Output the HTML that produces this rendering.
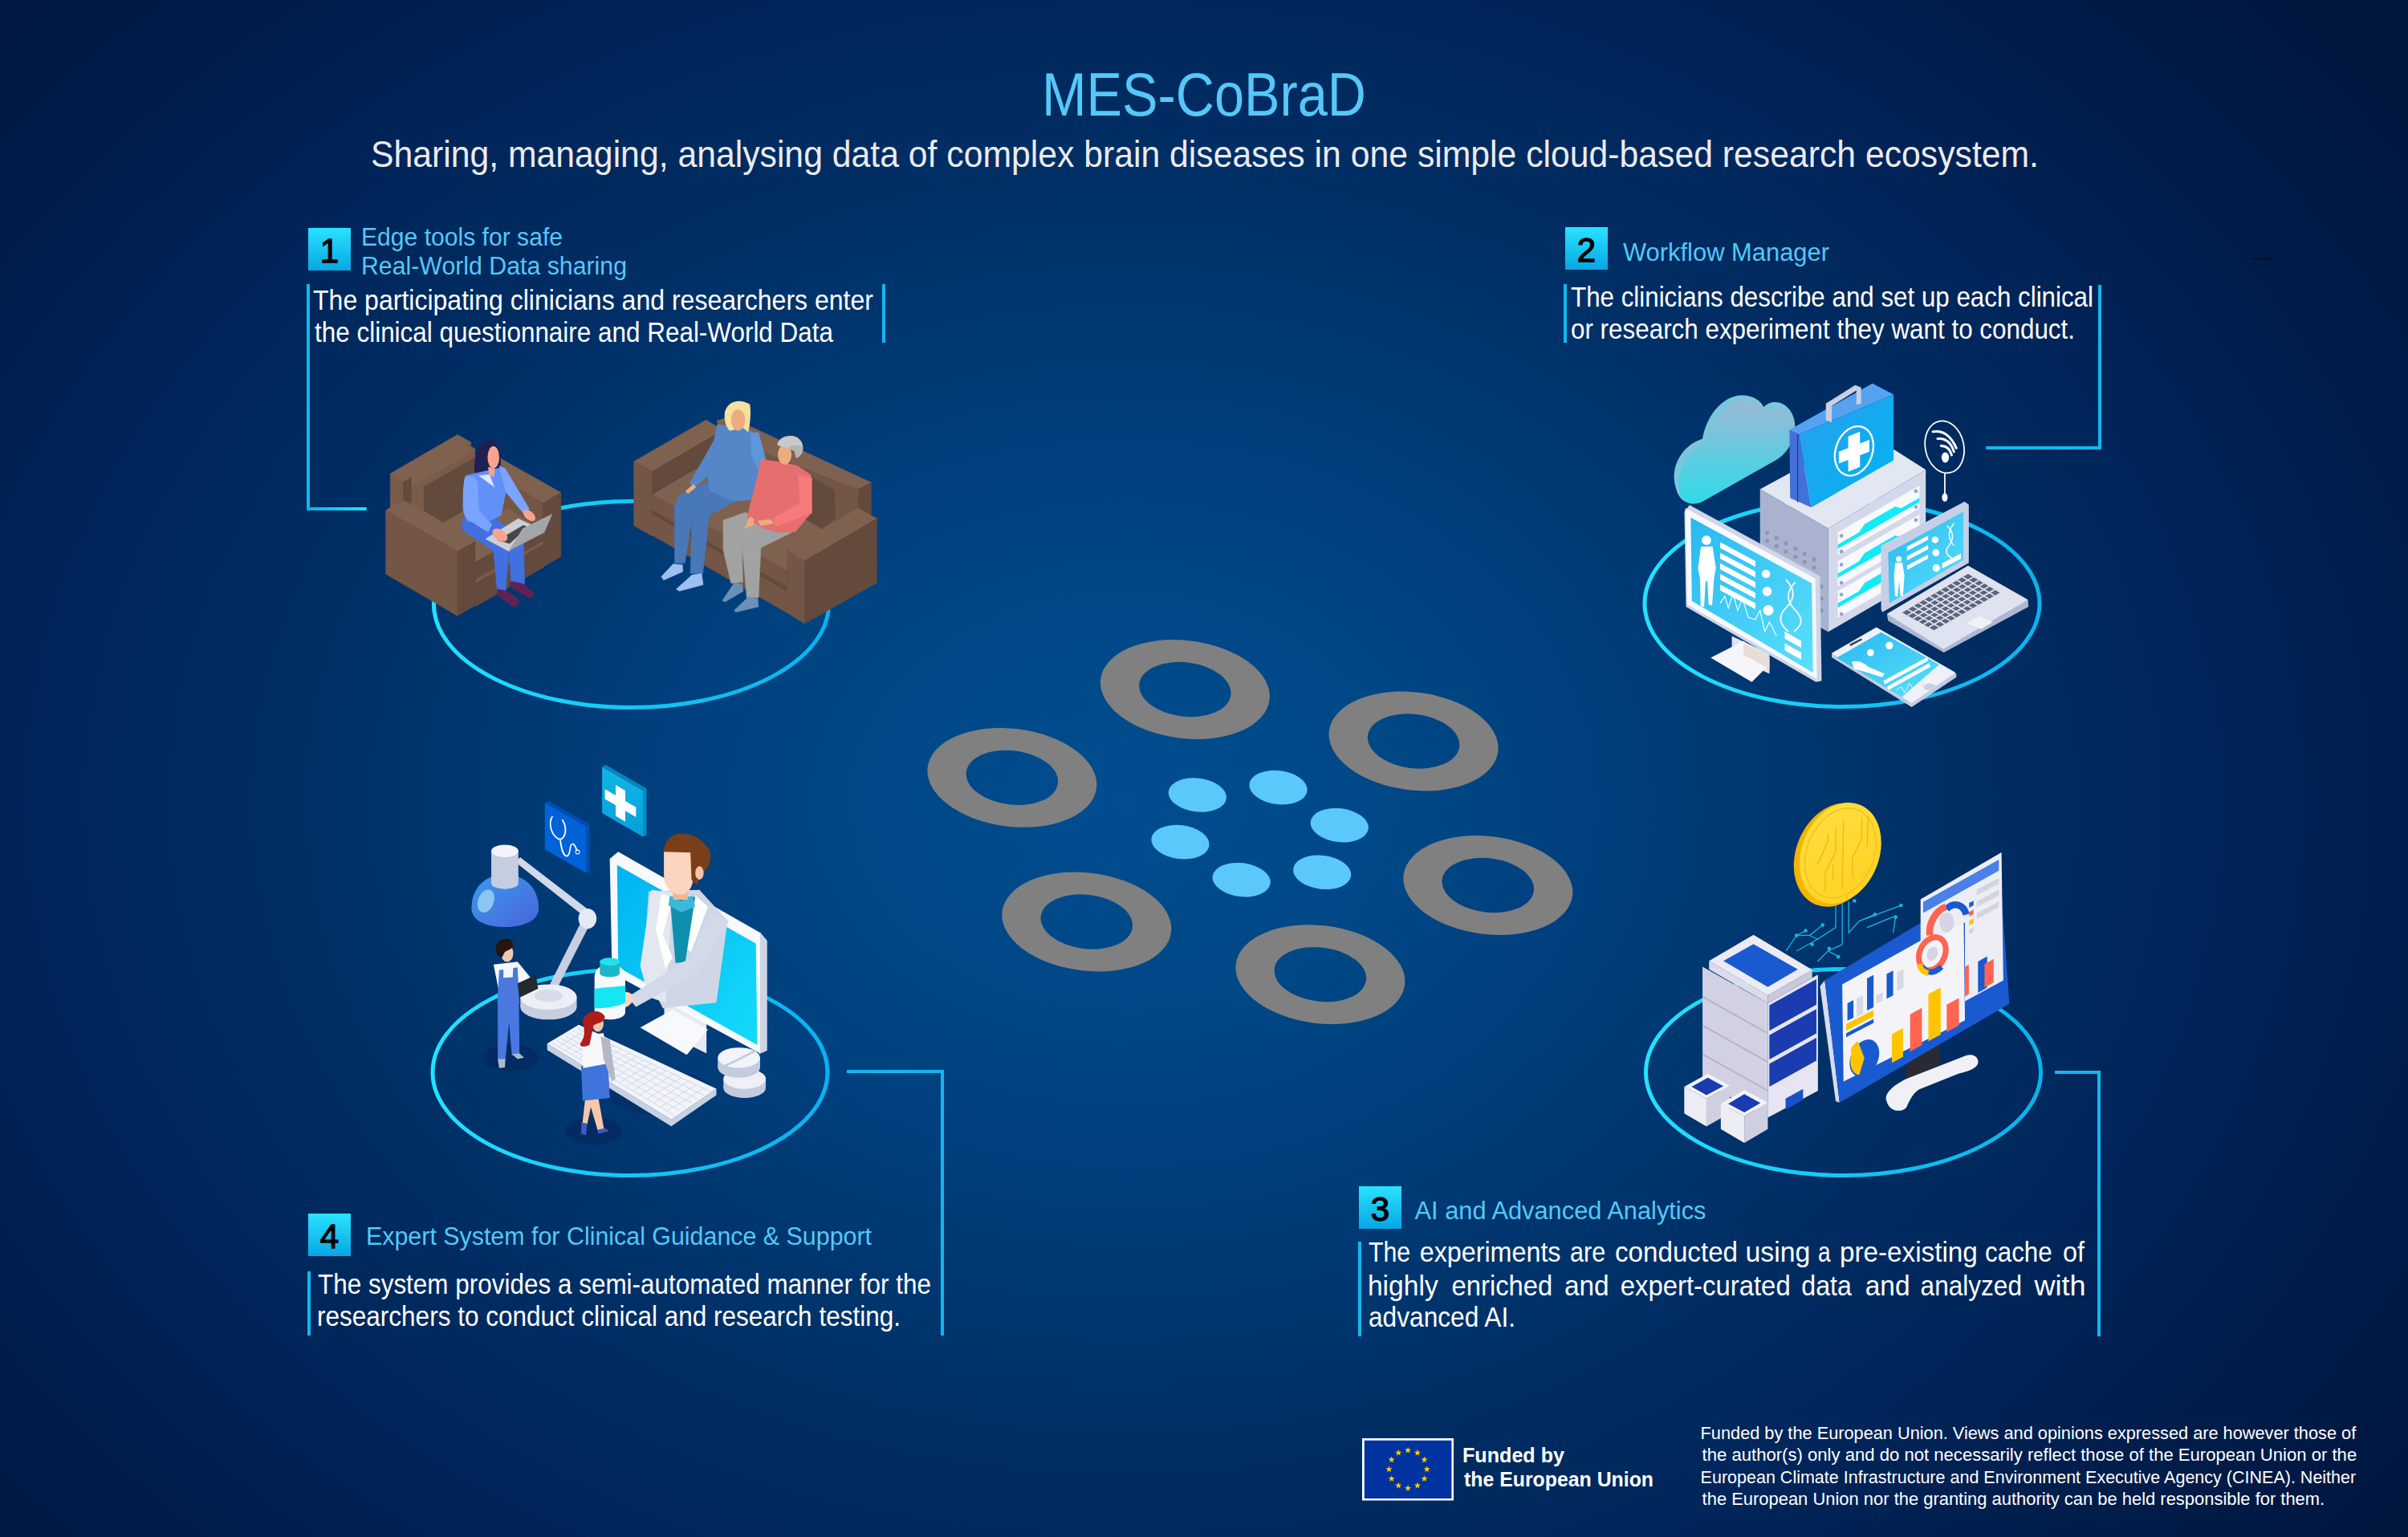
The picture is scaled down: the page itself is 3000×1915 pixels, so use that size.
<!DOCTYPE html>
<html><head><meta charset="utf-8"><title>MES-CoBraD</title>
<style>
html,body{margin:0;padding:0;width:3000px;height:1915px;overflow:hidden;}
body{background:radial-gradient(1963px 1510px at 1400px 1000px, #004d90 0%, #004785 17.9%, #003e7c 31.8%, #003b76 35.8%, #002c62 56.3%, #002a5e 61.6%, #00255a 69.2%, #001f4e 79.5%, #00163f 100%);font-family:"Liberation Sans",sans-serif;position:relative;}
svg{position:absolute;left:0;top:0;}
text{font-family:"Liberation Sans",sans-serif;}
</style></head><body>
<svg width="3000" height="1915" viewBox="0 0 3000 1915">
<defs>
<linearGradient id="boxg" x1="0" y1="0" x2="0" y2="1"><stop offset="0" stop-color="#2ae2ff"/><stop offset="1" stop-color="#08a6e4"/></linearGradient>
<linearGradient id="ellg" x1="0" y1="0" x2="1" y2="0"><stop offset="0" stop-color="#22e2ff"/><stop offset="0.5" stop-color="#14c6f4"/><stop offset="1" stop-color="#0ab2ee"/></linearGradient>
<linearGradient id="lineg" x1="0" y1="0" x2="1" y2="0"><stop offset="0" stop-color="#0bb0ea"/><stop offset="1" stop-color="#22e2ff"/></linearGradient>
</defs>

<ellipse cx="786.5" cy="753" rx="246" ry="128.5" fill="none" stroke="url(#ellg)" stroke-width="5"/>
<ellipse cx="2295" cy="752" rx="246" ry="128.5" fill="none" stroke="url(#ellg)" stroke-width="5"/>
<ellipse cx="785" cy="1336" rx="246" ry="128.5" fill="none" stroke="url(#ellg)" stroke-width="5"/>
<ellipse cx="2296.5" cy="1336" rx="246" ry="128.5" fill="none" stroke="url(#ellg)" stroke-width="5"/>
<rect x="382" y="354" width="4" height="282" fill="#10b8ee"/>
<rect x="382" y="632" width="74.6" height="4" fill="url(#lineg)"/>
<rect x="1099" y="354" width="4" height="73" fill="#10b8ee"/>
<rect x="1948" y="354" width="4" height="73" fill="#10b8ee"/>
<rect x="2614" y="355" width="4" height="205" fill="#10b8ee"/>
<rect x="2474.4" y="556" width="143.4" height="4" fill="#10b8ee"/>
<rect x="1055" y="1333" width="121" height="4" fill="#10b8ee"/>
<rect x="1172" y="1333" width="4" height="331" fill="#10b8ee"/>
<rect x="383" y="1584" width="4" height="80" fill="#10b8ee"/>
<rect x="2560" y="1334" width="57" height="4" fill="#10b8ee"/>
<rect x="2613" y="1334" width="4" height="331" fill="#10b8ee"/>
<rect x="1692" y="1547" width="4" height="118" fill="#10b8ee"/>
<rect x="384" y="284" width="53" height="53" fill="url(#boxg)"/>
<text x="410.5" y="327" text-anchor="middle" font-size="42" fill="#000" stroke="#000" stroke-width="1.3">1</text>
<rect x="1950" y="283" width="53" height="53" fill="url(#boxg)"/>
<text x="1976.5" y="326" text-anchor="middle" font-size="42" fill="#000" stroke="#000" stroke-width="1.3">2</text>
<rect x="384" y="1512" width="53" height="53" fill="url(#boxg)"/>
<text x="410.5" y="1555" text-anchor="middle" font-size="42" fill="#000" stroke="#000" stroke-width="1.3">4</text>
<rect x="1693" y="1478" width="53" height="53" fill="url(#boxg)"/>
<text x="1719.5" y="1521" text-anchor="middle" font-size="42" fill="#000" stroke="#000" stroke-width="1.3">3</text>
<path fill="#808080" fill-rule="evenodd" d="M1581.61,871.92 A106,61 7 1 1 1371.19,846.08 A106,61 7 1 1 1581.61,871.92 Z M1533.47,866.01 A57.5,33.5 7 1 1 1419.33,851.99 A57.5,33.5 7 1 1 1533.47,866.01 Z"/>
<path fill="#808080" fill-rule="evenodd" d="M1366.11,981.82 A106,61 7 1 1 1155.69,955.98 A106,61 7 1 1 1366.11,981.82 Z M1317.97,975.91 A57.5,33.5 7 1 1 1203.83,961.89 A57.5,33.5 7 1 1 1317.97,975.91 Z"/>
<path fill="#808080" fill-rule="evenodd" d="M1866.31,936.42 A106,61 7 1 1 1655.89,910.58 A106,61 7 1 1 1866.31,936.42 Z M1818.17,930.51 A57.5,33.5 7 1 1 1704.03,916.49 A57.5,33.5 7 1 1 1818.17,930.51 Z"/>
<path fill="#808080" fill-rule="evenodd" d="M1459.01,1161.42 A106,61 7 1 1 1248.59,1135.58 A106,61 7 1 1 1459.01,1161.42 Z M1410.87,1155.51 A57.5,33.5 7 1 1 1296.73,1141.49 A57.5,33.5 7 1 1 1410.87,1155.51 Z"/>
<path fill="#808080" fill-rule="evenodd" d="M1959.01,1115.92 A106,61 7 1 1 1748.59,1090.08 A106,61 7 1 1 1959.01,1115.92 Z M1910.87,1110.01 A57.5,33.5 7 1 1 1796.73,1095.99 A57.5,33.5 7 1 1 1910.87,1110.01 Z"/>
<path fill="#808080" fill-rule="evenodd" d="M1750.11,1227.02 A106,61 7 1 1 1539.69,1201.18 A106,61 7 1 1 1750.11,1227.02 Z M1701.97,1221.11 A57.5,33.5 7 1 1 1587.83,1207.09 A57.5,33.5 7 1 1 1701.97,1221.11 Z"/>
<ellipse cx="1491.8" cy="990.5" rx="36.3" ry="21" transform="rotate(7 1491.8 990.5)" fill="#5bc8fa"/>
<ellipse cx="1592.6" cy="981.1" rx="36.3" ry="21" transform="rotate(7 1592.6 981.1)" fill="#5bc8fa"/>
<ellipse cx="1668.8" cy="1028.2" rx="36.3" ry="21" transform="rotate(7 1668.8 1028.2)" fill="#5bc8fa"/>
<ellipse cx="1470.5" cy="1049.1" rx="36.3" ry="21" transform="rotate(7 1470.5 1049.1)" fill="#5bc8fa"/>
<ellipse cx="1546.7" cy="1096.2" rx="36.3" ry="21" transform="rotate(7 1546.7 1096.2)" fill="#5bc8fa"/>
<ellipse cx="1647.2" cy="1086.8" rx="36.3" ry="21" transform="rotate(7 1647.2 1086.8)" fill="#5bc8fa"/>
<g id="ill1">
<!-- armchair + woman with laptop: zoom coords of region [470,530,710,780] scale 6.15 -->
<g transform="translate(470,530) scale(0.16260)">
  <!-- back block -->
  <polygon stroke="#7a5b4a" stroke-width="3" stroke-linejoin="round" fill="#7a5b4a" points="100,370 615,72 718,130 718,160 750,180 750,720 100,720"/>
  <polygon stroke="#7f6150" stroke-width="3" stroke-linejoin="round" fill="#7f6150" points="100,370 615,72 718,130 680,150 750,190 260,470 200,430"/>
  <polygon stroke="#634a3c" stroke-width="3" stroke-linejoin="round" fill="#634a3c" points="200,430 260,398 260,600 200,575"/>
  <polygon stroke="#624a3c" stroke-width="3" stroke-linejoin="round" fill="#624a3c" points="360,470 750,245 750,630 505,745 360,660"/>
  <!-- right armrest -->
  <polygon stroke="#7f6150" stroke-width="3" stroke-linejoin="round" fill="#7f6150" points="940,250 1408,515 1270,595 800,330"/>
  <polygon stroke="#735646" stroke-width="3" stroke-linejoin="round" fill="#735646" points="940,400 1270,595 1270,1095 940,900"/>
  <polygon stroke="#634a3c" stroke-width="3" stroke-linejoin="round" fill="#634a3c" points="1270,595 1408,515 1408,1005 1270,1085"/>
  <!-- seat -->
  <polygon stroke="#7f6150" stroke-width="3" stroke-linejoin="round" fill="#7f6150" points="620,720 1000,640 1270,800 750,1050 620,970"/>
  <polygon stroke="#634a3c" stroke-width="3" stroke-linejoin="round" fill="#634a3c" points="750,1050 1270,750 1270,1090 750,1390"/>
  <polygon stroke="#7a5b4a" stroke-width="3" stroke-linejoin="round" fill="#7a5b4a" points="755,1180 1270,890 1270,910 755,1205"/>
  <!-- left armrest -->
  <polygon stroke="#7f6150" stroke-width="3" stroke-linejoin="round" fill="#7f6150" points="65,650 200,575 360,660 505,745 660,660 750,700 750,890 615,965"/>
  <polygon stroke="#735646" stroke-width="3" stroke-linejoin="round" fill="#735646" points="65,650 615,965 615,1460 65,1140"/>
  <polygon stroke="#634a3c" stroke-width="3" stroke-linejoin="round" fill="#634a3c" points="615,965 750,890 750,1380 615,1460"/>
  <!-- woman -->
  <path fill="#1f1f52" d="M745,350 C740,260 760,160 840,112 C900,100 940,150 945,230 C945,300 950,340 955,360 C920,360 890,345 870,330 L860,400 C820,410 780,390 745,350 Z"/>
  <polygon stroke="#4270e0" stroke-width="3" stroke-linejoin="round" fill="#4270e0" points="650,720 880,690 1120,880 1130,1215 1025,1215 1010,960 985,1270 920,1280 890,960 650,800"/>
  <path fill="#6190f8" d="M675,385 L780,360 L960,320 L985,520 L950,690 L870,730 L700,740 C660,700 650,640 655,600 Z"/>
  <polygon stroke="#dfe8ff" stroke-width="3" stroke-linejoin="round" fill="#dfe8ff" points="780,385 860,378 895,470 840,430"/>
  <path fill="#7aa4ff" d="M670,400 C720,370 770,400 770,460 L780,650 L880,760 L850,820 L690,720 C650,660 650,500 670,400 Z"/>
  <polygon stroke="#7aa4ff" stroke-width="3" stroke-linejoin="round" fill="#7aa4ff" points="935,310 980,330 1165,640 1125,680 985,510"/>
  <ellipse fill="#f9a38e" cx="890" cy="245" rx="45" ry="85"/>
  <polygon stroke="#f9a38e" stroke-width="3" stroke-linejoin="round" fill="#f9a38e" points="850,320 900,330 895,390 860,385"/>
  <polygon stroke="#5e2354" stroke-width="3" stroke-linejoin="round" fill="#5e2354" points="920,1255 1000,1270 1095,1345 1060,1390 1030,1385 920,1300"/>
  <polygon stroke="#5e2354" stroke-width="3" stroke-linejoin="round" fill="#5e2354" points="1020,1195 1110,1210 1205,1285 1185,1320 1160,1320 1020,1240"/>
  <!-- laptop -->
  <polygon stroke="#cfcfd3" stroke-width="3" stroke-linejoin="round" fill="#cfcfd3" points="830,870 1080,715 1175,760 1010,965"/>
  <polygon stroke="#45454f" stroke-width="3" stroke-linejoin="round" fill="#45454f" points="925,880 1120,765 1150,780 1015,905"/>
  <polygon stroke="#a4a5a9" stroke-width="3" stroke-linejoin="round" fill="#a4a5a9" points="1010,960 1115,790 1340,680 1280,820"/>
  <ellipse fill="#f9a38e" cx="940" cy="840" rx="65" ry="40" transform="rotate(35 940 840)"/>
  <ellipse fill="#f9a38e" cx="1165" cy="690" rx="55" ry="32" transform="rotate(40 1165 690)"/>
</g>
<!-- sofa with couple: zoom coords of region [780,490,1100,790] scale 5.122 -->
<g transform="translate(780,490) scale(0.19524)">
  <polygon stroke="#7f6150" stroke-width="3" stroke-linejoin="round" fill="#7f6150" points="580,175 660,150 1565,570 1480,615 600,270"/>
  <polygon stroke="#735646" stroke-width="3" stroke-linejoin="round" fill="#735646" points="600,270 1480,615 1480,900 1250,870 600,520"/>
  <polygon stroke="#634a3c" stroke-width="3" stroke-linejoin="round" fill="#634a3c" points="1480,615 1565,570 1565,770 1480,820"/>
  <polygon stroke="#735646" stroke-width="3" stroke-linejoin="round" fill="#735646" points="1420,580 1480,615 1480,760 1420,765"/>
  <polygon stroke="#7f6150" stroke-width="3" stroke-linejoin="round" fill="#7f6150" points="50,435 510,170 620,235 165,500"/>
  <polygon stroke="#634a3c" stroke-width="3" stroke-linejoin="round" fill="#634a3c" points="165,500 620,235 620,380 165,640"/>
  <polygon stroke="#735646" stroke-width="3" stroke-linejoin="round" fill="#735646" points="50,435 165,500 165,910 50,845"/>
  <polygon stroke="#7f6150" stroke-width="3" stroke-linejoin="round" fill="#7f6150" points="165,645 590,400 1000,640 1250,865 1480,735 1600,800 1140,1070 1025,1135"/>
  <polygon stroke="#624a3c" stroke-width="3" stroke-linejoin="round" fill="#624a3c" points="1000,430 1330,620 1335,800 1250,865 1000,720"/>
  <polygon stroke="#735646" stroke-width="3" stroke-linejoin="round" fill="#735646" points="165,645 1025,1135 1025,1400 165,905"/>
  <polygon stroke="#634a3c" stroke-width="3" stroke-linejoin="round" fill="#634a3c" points="165,745 1025,1235 1025,1262 165,770"/>
  <polygon stroke="#7f6150" stroke-width="3" stroke-linejoin="round" fill="#7f6150" points="1030,1000 1480,735 1600,800 1140,1070"/>
  <polygon stroke="#735646" stroke-width="3" stroke-linejoin="round" fill="#735646" points="1030,1000 1140,1070 1140,1470 1025,1400"/>
  <polygon stroke="#634a3c" stroke-width="3" stroke-linejoin="round" fill="#634a3c" points="1140,1070 1600,800 1600,1210 1140,1470"/>
  <!-- blonde woman -->
  <polygon stroke="#4878b8" stroke-width="3" stroke-linejoin="round" fill="#4878b8" points="340,650 530,560 770,650 530,780 490,1150 410,1150 420,800 375,1085 310,1085 310,720"/>
  <path fill="#5586c8" d="M580,200 L760,215 L830,260 L890,470 L800,680 L680,690 L530,620 L520,530 L440,600 L405,575 L560,300 Z"/>
  <polygon stroke="#5e96dc" stroke-width="3" stroke-linejoin="round" fill="#5e96dc" points="795,255 845,250 895,440 865,520 800,400"/>
  <path fill="#f5e09e" d="M630,120 C650,50 720,30 790,70 C800,130 790,200 780,248 L740,215 L700,230 L660,240 C630,200 625,160 630,120 Z"/>
  <ellipse fill="#ebac7e" cx="715" cy="170" rx="45" ry="68"/>
  <polygon stroke="#9ec0f0" stroke-width="3" stroke-linejoin="round" fill="#9ec0f0" points="225,1170 300,1090 360,1095 362,1138 240,1192"/>
  <polygon stroke="#9ec0f0" stroke-width="3" stroke-linejoin="round" fill="#9ec0f0" points="320,1250 420,1160 482,1150 492,1222 340,1262"/>
  <polygon stroke="#ebac7e" stroke-width="3" stroke-linejoin="round" fill="#ebac7e" points="380,625 430,580 445,600 395,640"/>
  <!-- old man -->
  <polygon stroke="#a2a2a2" stroke-width="3" stroke-linejoin="round" fill="#a2a2a2" points="620,810 760,760 1000,870 1055,890 860,985 845,1305 770,1305 740,965 745,1205 670,1212 620,1000"/>
  <path fill="#e56f6f" d="M860,420 L1000,440 L1090,460 L1180,520 L1185,760 L1080,885 L975,890 L870,860 L770,795 L830,560 Z"/>
  <polygon stroke="#f77a7a" stroke-width="3" stroke-linejoin="round" fill="#f77a7a" points="1100,520 1185,540 1185,765 955,850 940,800 1110,700"/>
  <ellipse fill="#ebac7e" cx="1012" cy="392" rx="44" ry="64"/>
  <path fill="#c9c9c9" d="M965,330 C970,290 1010,268 1060,272 C1110,278 1135,320 1128,365 C1120,395 1100,410 1085,412 L1075,370 C1060,355 1040,350 1020,345 C1000,340 980,338 965,330 Z"/>
  <path fill="#b4b4b4" d="M1030,348 C1060,330 1100,325 1128,340 C1130,380 1110,405 1085,412 L1075,370 Z"/>
  <polygon stroke="#ebac7e" stroke-width="3" stroke-linejoin="round" fill="#ebac7e" points="755,860 790,790 815,800 810,845"/>
  <polygon stroke="#ebac7e" stroke-width="3" stroke-linejoin="round" fill="#ebac7e" points="840,815 920,805 940,830 860,845"/>
  <polygon stroke="#6a90b8" stroke-width="3" stroke-linejoin="round" fill="#6a90b8" points="615,1322 690,1210 740,1218 748,1262 630,1332"/>
  <polygon stroke="#6a90b8" stroke-width="3" stroke-linejoin="round" fill="#6a90b8" points="690,1385 780,1300 840,1310 845,1362 700,1397"/>
</g>
</g>

<g id="ill2" transform="translate(2020,450) scale(0.29283)">
  <defs>
    <linearGradient id="cloudg" x1="0" y1="0" x2="0" y2="1"><stop offset="0" stop-color="#9ab9d6"/><stop offset="1" stop-color="#2fdbe8"/></linearGradient>
    <linearGradient id="scrg" x1="0" y1="0" x2="1" y2="1"><stop offset="0" stop-color="#2ab8f0"/><stop offset="1" stop-color="#5ae0fc"/></linearGradient>
    <linearGradient id="kitg" x1="0" y1="0" x2="1" y2="1"><stop offset="0" stop-color="#2a9ff0"/><stop offset="1" stop-color="#00b4f0"/></linearGradient>
  </defs>
  <!-- cloud -->
  <path fill="#7cc6dc" d="M232,540 C205,460 250,360 345,330 C365,215 445,140 520,145 C565,148 595,170 605,195 C650,150 728,180 738,265 C742,330 700,390 650,420 L330,595 C285,615 245,595 232,540 Z"/>
  <path fill="url(#cloudg)" d="M250,560 C225,480 270,380 360,350 C380,240 460,165 535,170 C580,173 605,195 615,218 C660,180 728,205 738,275 C740,340 700,400 650,425 L345,598 C300,618 262,605 250,560 Z"/>
  <!-- server tower -->
  <polygon fill="#e3e7f1" points="590,545 1040,300 1295,462 880,712"/>
  <polygon fill="#a9b3cf" points="590,545 880,712 880,1152 590,990"/>
  <polygon fill="#d3d9ea" points="880,712 1295,462 1295,910 880,1152"/>
  <polygon fill="#d3d9ea" points="905,735 1280,520 1280,900 905,1115"/>
  <polygon fill="#f7f9fd" points="921,728 1268,529 1268,626 921,825"/>
  <polygon fill="#14eaf6" points="921,780 1010,729 1035,693 1165,618 1190,626 1268,581 1268,599 1190,644 1165,658 1035,733 1010,747 921,798"/>
  <circle cx="936" cy="743" r="8" fill="#9aa4c0"/>
  <circle cx="936" cy="810" r="8" fill="#9aa4c0"/>
  <circle cx="1253" cy="553" r="8" fill="#9aa4c0"/>
  <circle cx="1253" cy="620" r="8" fill="#9aa4c0"/>
  <polygon fill="#f7f9fd" points="921,851 1268,652 1268,759 921,958"/>
  <polygon fill="#14eaf6" points="921,903 1010,852 1035,816 1165,741 1190,749 1268,704 1268,722 1190,767 1165,781 1035,856 1010,870 921,921"/>
  <circle cx="936" cy="866" r="8" fill="#9aa4c0"/>
  <circle cx="936" cy="943" r="8" fill="#9aa4c0"/>
  <circle cx="1253" cy="676" r="8" fill="#9aa4c0"/>
  <circle cx="1253" cy="753" r="8" fill="#9aa4c0"/>
  <polygon fill="#f7f9fd" points="921,978 1268,779 1268,892 921,1091"/>
  <polygon fill="#14eaf6" points="921,1030 1010,979 1035,943 1165,868 1190,876 1268,831 1268,849 1190,894 1165,908 1035,983 1010,997 921,1048"/>
  <circle cx="936" cy="993" r="8" fill="#9aa4c0"/>
  <circle cx="936" cy="1076" r="8" fill="#9aa4c0"/>
  <circle cx="1253" cy="803" r="8" fill="#9aa4c0"/>
  <circle cx="1253" cy="886" r="8" fill="#9aa4c0"/>
  <g fill="#8d97b3">
    <circle cx="620" cy="730" r="9"/><circle cx="660" cy="752" r="9"/><circle cx="700" cy="775" r="9"/><circle cx="740" cy="798" r="9"/><circle cx="780" cy="820" r="9"/><circle cx="820" cy="843" r="9"/>
    <circle cx="620" cy="765" r="9"/><circle cx="660" cy="787" r="9"/><circle cx="700" cy="810" r="9"/><circle cx="740" cy="833" r="9"/><circle cx="780" cy="855" r="9"/><circle cx="820" cy="878" r="9"/>
    <circle cx="850" cy="960" r="9"/><circle cx="850" cy="1010" r="9"/><circle cx="850" cy="1060" r="9"/>
  </g>
  <!-- medical kit -->
  <polygon fill="#56a2f0" points="715,292 1068,95 1158,142 755,312"/>
  <polygon fill="#4470da" points="715,292 755,312 808,622 718,582"/>
  <polygon fill="url(#kitg)" points="755,312 1158,142 1158,422 808,622"/>
  <line x1="750" y1="312" x2="750" y2="600" stroke="#1f3a80" stroke-width="4"/>
  <polygon fill="#c9cfe2" points="870,180 995,102 1020,112 1020,180 1000,185 1000,125 895,190 895,260 870,250"/>
  <ellipse cx="990" cy="382" rx="78" ry="108" transform="rotate(20 990 382)" fill="none" stroke="#ffffff" stroke-width="8"/>
  <polygon fill="#ffffff" points="965,320 1015,300 1015,350 1055,335 1055,385 1015,400 1015,450 965,470 965,420 925,435 925,385 965,370"/>
  <!-- wifi sign -->
  <ellipse cx="1375" cy="365" rx="82" ry="112" transform="rotate(-12 1375 365)" fill="none" stroke="#ffffff" stroke-width="6"/>
  <path d="M1325,300 Q1390,290 1425,370 M1345,330 Q1395,325 1415,385 M1360,360 Q1395,360 1405,400" fill="none" stroke="#ffffff" stroke-width="10" stroke-linecap="round"/>
  <ellipse cx="1378" cy="410" rx="16" ry="22" fill="#ffffff"/>
  <line x1="1376" y1="478" x2="1376" y2="575" stroke="#ffffff" stroke-width="6"/>
  <ellipse cx="1376" cy="580" rx="12" ry="18" fill="#ffffff"/>
  <!-- monitor -->
  <polygon fill="#dfe4f0" points="470,1170 630,1245 630,1330 470,1255"/>
  <polygon fill="#f4f6fb" points="380,1262 520,1190 630,1290 555,1365"/>
  <polygon fill="#e8ddd6" points="520,1200 630,1262 630,1310 520,1250"/>
  <polygon fill="#cfd6e8" points="268,640 290,612 845,915 852,1360 828,1365 275,1045"/>
  <polygon fill="#f7f9fd" points="272,625 825,925 832,1352 280,1035"/>
  <polygon fill="url(#scrg)" points="295,665 810,945 815,1325 300,1020"/>
  <g fill="#ffffff">
    <circle cx="362" cy="762" r="20"/><path d="M338,790 L388,788 L402,880 L394,925 L386,1040 L371,1036 L366,935 L358,938 L352,1046 L337,1041 L335,928 L326,882 Z"/>
    <polygon points="420,770 570,850 570,875 420,795"/>
    <polygon points="420,815 570,895 570,920 420,840"/>
    <polygon points="420,860 570,940 570,965 420,885"/>
    <polygon points="420,905 570,985 570,1010 420,930"/>
    <polygon points="420,950 570,1030 570,1055 420,975"/>
    <circle cx="615" cy="905" r="18"/><circle cx="620" cy="980" r="20"/><circle cx="625" cy="1060" r="22"/>
    <polygon points="695,1150 765,1190 765,1220 695,1180"/>
    <polygon points="695,1200 765,1240 765,1270 695,1230"/>
  </g>
  <path d="M420,1030 L440,1000 L455,1050 L475,990 L495,1060 L515,1010 L540,1090 L570,1100 L590,1060 L610,1150 L630,1110 L660,1170" fill="none" stroke="#ffffff" stroke-width="4"/>
  <path d="M700,930 Q760,990 700,1050 Q650,1100 710,1150 M740,940 Q680,1000 740,1060 Q790,1110 735,1150" fill="none" stroke="#ffffff" stroke-width="6"/>
  <!-- laptop -->
  <polygon fill="#aeb7d2" points="1130,1078 1475,872 1730,1018 1732,1045 1372,1240 1135,1105"/>
  <polygon fill="#dfe3ef" points="1130,1075 1475,870 1730,1015 1370,1225"/>
  <polygon fill="#59657c" points="1195,1070 1475,905 1610,985 1330,1145"/>
  <g stroke="#dfe3ef" stroke-width="6"><line x1="1218" y1="1082" x2="1498" y2="918"/><line x1="1240" y1="1095" x2="1520" y2="932"/><line x1="1262" y1="1108" x2="1542" y2="945"/><line x1="1285" y1="1120" x2="1565" y2="958"/><line x1="1308" y1="1132" x2="1588" y2="972"/><line x1="1218" y1="1056" x2="1353" y2="1132"/><line x1="1242" y1="1042" x2="1377" y2="1118"/><line x1="1265" y1="1029" x2="1400" y2="1105"/><line x1="1288" y1="1015" x2="1423" y2="1092"/><line x1="1312" y1="1001" x2="1447" y2="1078"/><line x1="1335" y1="988" x2="1470" y2="1065"/><line x1="1358" y1="974" x2="1493" y2="1052"/><line x1="1382" y1="960" x2="1517" y2="1038"/><line x1="1405" y1="946" x2="1540" y2="1025"/><line x1="1428" y1="932" x2="1563" y2="1012"/><line x1="1452" y1="919" x2="1587" y2="998"/></g>
  <polygon fill="#f0f2f8" points="1470,1115 1520,1085 1580,1110 1530,1140"/>
  <polygon fill="#c7cfe6" points="1105,785 1460,598 1478,610 1478,858 1110,1068 1105,1055"/>
  <polygon fill="url(#scrg)" points="1135,815 1455,640 1455,845 1140,1030"/>
  <g fill="#ffffff">
    <circle cx="1180" cy="842" r="12"/><path d="M1165,858 L1195,856 L1204,912 L1198,1000 L1187,998 L1182,935 L1175,1002 L1164,1000 L1160,912 Z"/>
    <polygon points="1215,790 1305,742 1305,760 1215,808"/>
    <polygon points="1215,830 1305,782 1305,800 1215,848"/>
    <polygon points="1215,870 1305,822 1305,840 1215,888"/>
    <polygon points="1365,860 1445,818 1445,840 1365,882"/>
    <circle cx="1335" cy="760" r="14"/><circle cx="1338" cy="815" r="15"/><circle cx="1340" cy="880" r="16"/>
  </g>
  <path d="M1385,700 Q1430,740 1390,790 Q1370,820 1410,840 M1415,690 Q1375,740 1415,785" fill="none" stroke="#ffffff" stroke-width="5"/>
  <!-- phone -->
  <polygon fill="#c4cbe0" points="895,1245 1085,1135 1425,1330 1425,1345 1235,1472 895,1260"/>
  <polygon fill="#eef1f8" points="895,1242 1085,1132 1422,1325 1235,1455"/>
  <polygon fill="url(#scrg)" points="916,1262 1105,1153 1352,1291 1193,1429"/>
  <polygon fill="#ffffff" points="1115,1360 1300,1260 1305,1275 1120,1375"/>
  <polygon fill="#ffffff" points="1130,1385 1310,1285 1315,1300 1135,1400"/>
  <path d="M980,1280 C1000,1270 1030,1280 1050,1300 L1120,1330 L1110,1345 L1030,1320 L990,1310 Z" fill="#ffffff"/>
  <circle cx="1060" cy="1240" r="15" fill="#ffffff"/><circle cx="1140" cy="1210" r="16" fill="#ffffff"/>
  <polygon fill="#3a3f50" points="970,1205 1020,1180 1025,1186 975,1212"/>
  <ellipse cx="1310" cy="1385" rx="28" ry="14" fill="#c9d0e2"/>
  <path d="M1170,1400 L1190,1385 L1205,1410 L1225,1370 L1245,1400 L1260,1380 L1280,1395 L1320,1345 L1345,1340" fill="none" stroke="#ffffff" stroke-width="3"/>
</g>

<g id="ill3" transform="translate(2030,980) scale(0.32531)">
  <defs>
    <linearGradient id="coing" x1="0" y1="0" x2="1" y2="1"><stop offset="0" stop-color="#ffe040"/><stop offset="1" stop-color="#ffd020"/></linearGradient>
  </defs>
  <!-- circuit lines -->
  <g fill="none" stroke="#1cb4e0" stroke-width="4">
    <path d="M790,440 L790,540 L720,585 L690,570 L640,570 M720,585 L640,630 M690,570 L740,530"/>
    <path d="M815,440 L815,605 L760,630 L720,670 M760,630 L800,650"/>
    <path d="M840,440 L840,560 L880,515 L1040,455 M880,515 L940,490 M910,540 L1020,495 L1010,560"/>
    <path d="M600,630 L640,570 L670,555"/>
  </g>
  <g fill="#1cb4e0"><circle cx="640" cy="570" r="7"/><circle cx="675" cy="552" r="7"/><circle cx="740" cy="530" r="7"/><circle cx="700" cy="605" r="7"/><circle cx="765" cy="620" r="7"/><circle cx="800" cy="652" r="7"/><circle cx="862" cy="438" r="7"/><circle cx="940" cy="490" r="7"/><circle cx="1040" cy="455" r="7"/><circle cx="1020" cy="500" r="7"/></g>
  <!-- coin -->
  <ellipse cx="790" cy="262" rx="152" ry="205" transform="rotate(22 790 262)" fill="#f5b400"/>
  <ellipse cx="808" cy="255" rx="148" ry="200" transform="rotate(22 808 255)" fill="url(#coing)"/>
  <ellipse cx="808" cy="255" rx="128" ry="178" transform="rotate(22 808 255)" fill="none" stroke="#f2bc20" stroke-width="4"/>
  <g fill="none" stroke="#efb418" stroke-width="4">
    <path d="M750,400 L750,330 L790,250 L790,160 M815,390 L820,130 M855,350 L855,270 L890,200 L890,120 M910,230 L915,110 M720,300 L760,210 L760,180 M780,355 L780,300"/>
  </g>
  <!-- server stack -->
  <polygon fill="#d2d1e3" points="280,690 530,830 530,1268 280,1130"/>
  <g stroke="#b4b3ca" stroke-width="6"><line x1="280" y1="805" x2="530" y2="945"/><line x1="280" y1="915" x2="530" y2="1055"/><line x1="280" y1="1025" x2="530" y2="1165"/></g>
  <polygon fill="#e6e5f1" points="530,830 722,720 722,1165 530,1268"/>
  <polygon fill="#1a3cb0" points="536,838 716,738 716,835 536,935"/>
  <polygon fill="#1a3cb0" points="536,952 716,852 716,945 536,1045"/>
  <polygon fill="#1a3cb0" points="536,1062 716,962 716,1050 536,1150"/>
  <polygon fill="#e6e5f1" points="545,1175 708,1085 708,1160 545,1252"/>
  <polygon fill="#1a50c8" points="598,1195 665,1158 665,1200 598,1238"/>
  <polygon fill="#dcdbea" points="305,668 530,800 530,830 305,700"/>
  <polygon fill="#c9c8dc" points="530,800 700,702 700,732 530,830"/>
  <polygon fill="#ecebf5" points="305,668 475,568 700,702 530,800"/>
  <polygon fill="#1a5ad0" points="360,668 475,603 645,700 530,768"/>
  <!-- small boxes -->
  <polygon fill="#ededf5" points="210,1150 295,1195 295,1302 210,1252"/>
  <polygon fill="#d0cfe0" points="295,1195 385,1145 385,1250 295,1302"/>
  <polygon fill="#f2f2f8" points="210,1150 300,1100 385,1145 295,1195"/>
  <polygon fill="#1a3cb0" points="238,1150 300,1115 360,1147 295,1182"/>
  <polygon fill="#ededf5" points="350,1215 440,1262 440,1365 350,1312"/>
  <polygon fill="#d0cfe0" points="440,1262 530,1210 530,1312 440,1365"/>
  <polygon fill="#f2f2f8" points="350,1215 440,1162 530,1210 440,1262"/>
  <polygon fill="#1a3cb0" points="378,1215 440,1178 502,1212 440,1248"/>
  <!-- monitor stand -->
  <polygon fill="#2a2a35" points="1060,1030 1190,960 1190,1065 1060,1125"/>
  <path fill="#f0f0f6" d="M985,1205 C975,1180 1000,1150 1060,1120 L1290,1030 C1320,1020 1340,1040 1335,1060 C1330,1080 1300,1090 1260,1100 L1110,1160 C1085,1175 1075,1200 1060,1230 C1040,1250 995,1245 985,1205 Z"/>
  <!-- monitor -->
  <polygon fill="#d8dcec" points="730,765 748,742 805,1210 790,1205"/>
  <polygon fill="#1a5ad0" points="748,742 1420,340 1455,832 805,1210"/>
  <polygon fill="#f4f4f8" points="815,758 1280,498 1285,895 820,1130"/>
  <!-- back paper -->
  <polygon fill="#edeef5" points="1115,432 1425,252 1432,742 1285,822 1285,520 1115,620"/>
  <polygon fill="#4a80e8" points="1125,442 1415,280 1415,322 1125,484"/>
  <polygon fill="#ff6450" points="1285,690 1300,682 1300,795 1285,805"/>
  <polygon fill="#1a5ad0" points="1335,670 1370,650 1370,770 1335,790"/>
  <polygon fill="#ff6450" points="1360,680 1395,660 1395,750 1360,770"/>
  <g fill="#d4d4e0"><polygon points="1330,395 1415,350 1415,372 1330,417"/><polygon points="1330,440 1415,395 1415,417 1330,462"/><polygon points="1330,485 1415,440 1415,462 1330,507"/></g>
  <path d="M1215,470 C1240,440 1280,450 1290,490" fill="none" stroke="#1a5ad0" stroke-width="26"/><ellipse cx="1215" cy="520" rx="28" ry="38" fill="#d4d4e2"/>
  <path d="M1150,570 C1145,520 1175,475 1212,460" fill="none" stroke="#ff6450" stroke-width="26"/>
  <polygon fill="#1a5ad0" points="1301,446 1318,437 1318,455 1301,464"/>
  <polygon fill="#ff6450" points="1301,480 1318,471 1318,489 1301,498"/>
  <polygon fill="#ffc400" points="1301,514 1318,505 1318,523 1301,532"/>
  <polygon fill="#d4d4e0" points="1301,548 1318,539 1318,557 1301,566"/>
  <!-- screen charts -->
  <g fill="#1a5ad0">
    <polygon points="835,830 858,818 858,885 835,897"/>
    <polygon points="910,735 935,722 935,845 910,858"/>
    <polygon points="985,718 1010,705 1010,800 985,813"/>
  </g>
  <g fill="#d8d8e4">
    <polygon points="870,812 895,800 895,870 870,882"/>
    <polygon points="1025,712 1050,700 1050,770 1025,782"/>
    <polygon points="945,800 970,788 970,820 945,832"/>
  </g>
  <polygon fill="#ffc400" points="830,910 935,855 935,880 830,935"/>
  <polygon fill="#1a5ad0" points="830,945 935,890 935,905 830,960"/>
  <polygon fill="#ffc400" points="1005,948 1048,925 1048,1035 1005,1058"/>
  <polygon fill="#ff6450" points="1075,872 1120,848 1120,990 1075,1015"/>
  <polygon fill="#ffc400" points="1145,795 1192,770 1192,950 1145,975"/>
  <polygon fill="#ff6450" points="1215,835 1262,810 1262,915 1215,940"/>
  <ellipse cx="900" cy="1040" rx="52" ry="75" transform="rotate(25 900 1040)" fill="#1a5ad0"/>
  <path d="M900,1040 L880,1105 C850,1100 840,1060 850,1020 Z M900,1040 L875,975 C850,990 845,1010 850,1020 Z" fill="#ffc400"/>
  <ellipse cx="1160" cy="640" rx="48" ry="66" transform="rotate(25 1160 640)" fill="none" stroke="#ff6450" stroke-width="22"/>
  <path d="M1120,690 C1140,720 1170,715 1195,690" fill="none" stroke="#1a5ad0" stroke-width="22"/>
  <path d="M1110,680 C1115,705 1130,712 1145,715" fill="none" stroke="#ffc400" stroke-width="22"/>
  <ellipse cx="1160" cy="640" rx="20" ry="28" transform="rotate(25 1160 640)" fill="#d4d4e2"/>
</g>

<g id="ill4" transform="translate(520,940) scale(0.35142)">
  <defs>
    <linearGradient id="shadeg" x1="0" y1="0" x2="1" y2="1"><stop offset="0" stop-color="#3a9cec"/><stop offset="1" stop-color="#4a64dc"/></linearGradient>
    <linearGradient id="scr4" x1="0" y1="0" x2="1" y2="1"><stop offset="0" stop-color="#00b4f0"/><stop offset="1" stop-color="#14dafc"/></linearGradient>
    <linearGradient id="crossg" x1="0" y1="0" x2="0" y2="1"><stop offset="0" stop-color="#12b6e6"/><stop offset="1" stop-color="#05a0d8"/></linearGradient>
  </defs>
  <!-- floor shadows -->
  <ellipse cx="330" cy="1075" rx="100" ry="48" fill="#06285c" opacity="0.7"/>
  <ellipse cx="625" cy="1335" rx="100" ry="48" fill="#06285c" opacity="0.7"/>
  <ellipse cx="860" cy="1200" rx="190" ry="80" fill="#06285c" opacity="0.4"/>
  <!-- signs -->
  <polygon fill="#004cb0" points="452,172 465,164 610,247 598,255"/>
  <polygon fill="#0050b8" points="598,255 610,247 610,412 598,420"/>
  <polygon fill="#0062d8" points="452,172 598,255 598,420 452,337"/>
  <path d="M479,219 C465,240 470,280 500,300 L512,299 C530,285 528,250 513,231 M506,300 C510,330 515,360 530,360 C545,358 538,320 548,318 C560,315 560,332 566,340" fill="none" stroke="#ffffff" stroke-width="5"/><circle cx="568" cy="346" r="7" fill="none" stroke="#ffffff" stroke-width="3"/>
  <polygon fill="#0884c0" points="655,45 668,37 812,120 800,128"/>
  <polygon fill="#0590c8" points="800,128 812,120 812,285 800,292"/>
  <polygon fill="url(#crossg)" points="655,45 800,128 800,292 655,208"/>
  <polygon fill="#ffffff" points="703,108 737,128 737,165 775,187 775,222 737,200 737,238 703,218 703,180 665,158 665,123 703,145"/>
  <!-- lamp -->
  <polygon fill="#d3d9e8" points="345,380 365,365 612,555 592,575"/>
  <polygon fill="#c7cee2" points="585,585 615,595 480,860 452,850"/>
  <ellipse cx="465" cy="895" rx="100" ry="45" fill="#c7cee0"/>
  <rect x="365" y="860" width="200" height="35" fill="#c7cee0"/>
  <ellipse cx="465" cy="860" rx="100" ry="45" fill="#eceff5"/>
  <ellipse cx="465" cy="855" rx="50" ry="22" fill="#d6dcea"/>
  <ellipse cx="603" cy="582" rx="32" ry="36" fill="#e6e9f2"/>
  <path fill="url(#shadeg)" d="M192,545 C192,470 245,425 310,425 C375,425 430,470 430,545 C430,590 375,612 310,612 C245,612 192,590 192,545 Z"/>
  <ellipse cx="243" cy="520" rx="28" ry="42" transform="rotate(20 243 520)" fill="#8cc4f2"/>
  <rect x="262" y="342" width="96" height="115" fill="#c5cde0"/>
  <ellipse cx="310" cy="457" rx="48" ry="20" fill="#c5cde0"/>
  <ellipse cx="310" cy="342" rx="48" ry="22" fill="#f2f4f9"/>
  <!-- monitor -->
  <polygon fill="#e6eaf3" points="875,860 1025,940 1025,1060 875,985"/>
  <polygon fill="#f7f9fc" points="790,968 905,905 1030,975 955,1065"/>
  <polygon fill="#cdd4e6" points="1215,630 1240,660 1240,1050 1212,1062"/>
  <polygon fill="#f7f9fc" points="682,370 712,345 1215,632 1215,1060 690,775"/>
  <polygon fill="url(#scr4)" points="708,392 1200,670 1205,1030 712,755"/>
  <!-- doctor -->
  <path fill="#cfd6e6" d="M820,485 L1000,480 L1100,590 L1060,880 L870,900 L800,760 Z"/>
  <polygon fill="#e3e7ef" points="830,480 905,490 880,880 820,860 790,750"/>
  <polygon fill="#ffffff" points="865,495 905,505 870,640 905,720 880,760 845,620"/>
  <polygon fill="#ffffff" points="985,500 1030,540 970,700 945,680"/>
  <polygon fill="#0e8fae" points="895,505 985,505 950,735 915,740"/>
  <polygon fill="#3ab9d8" points="895,500 935,520 975,500 985,540 935,560 890,535"/>
  <polygon fill="#d2d9e8" points="1040,560 1105,590 1000,770 775,895 745,860 960,725"/>
  <polygon fill="#f0b890" points="905,470 962,470 958,515 908,515"/>
  <path fill="#fdd5bf" d="M874,342 L972,342 L980,430 C976,472 960,497 934,497 C898,497 876,470 874,430 Z"/>
  <path fill="#7a3e1a" d="M872,345 C878,300 905,280 935,280 C978,280 1012,300 1036,340 C1046,380 1030,412 1006,422 L992,464 L972,445 L968,348 Z"/><ellipse cx="1000" cy="420" rx="15" ry="24" fill="#f5c3a8"/>
  <ellipse cx="725" cy="872" rx="42" ry="28" transform="rotate(-20 725 872)" fill="#fdd5bf"/>
  <!-- bottle -->
  <path fill="#f6f8fc" d="M628,790 C628,760 650,745 682,745 C715,745 737,760 737,790 L737,915 C737,930 710,940 682,940 C655,940 628,930 628,915 Z"/>
  <path fill="#14e6f4" d="M628,830 L737,820 L737,880 C710,895 660,900 628,900 Z"/>
  <rect x="647" y="735" width="70" height="42" fill="#1ab8c8"/>
  <ellipse cx="682" cy="777" rx="35" ry="12" fill="#1ab8c8"/>
  <ellipse cx="682" cy="735" rx="35" ry="14" fill="#22e0ee"/>
  <!-- keyboard -->
  <polygon fill="#c8d0e3" points="460,1025 460,1048 900,1318 1060,1208 1060,1185 900,1295"/>
  <polygon fill="#f2f4f9" points="460,1025 572,958 1060,1185 900,1295"/>
  <g stroke="#c9d1e4" stroke-width="2.5"><line x1="478" y1="1023" x2="907" y2="1277"/><line x1="493" y1="1014" x2="929" y2="1263"/><line x1="508" y1="1006" x2="951" y2="1250"/><line x1="522" y1="997" x2="972" y2="1236"/><line x1="537" y1="988" x2="994" y2="1222"/><line x1="552" y1="980" x2="1016" y2="1209"/><line x1="567" y1="971" x2="1038" y2="1195"/><line x1="500" y1="1036" x2="590" y2="982"/><line x1="524" y1="1050" x2="617" y2="995"/><line x1="548" y1="1064" x2="643" y2="1007"/><line x1="572" y1="1079" x2="670" y2="1020"/><line x1="596" y1="1093" x2="696" y2="1033"/><line x1="621" y1="1107" x2="723" y2="1045"/><line x1="645" y1="1122" x2="749" y2="1058"/><line x1="669" y1="1136" x2="776" y2="1070"/><line x1="693" y1="1150" x2="802" y2="1083"/><line x1="717" y1="1164" x2="829" y2="1095"/><line x1="741" y1="1179" x2="855" y2="1108"/><line x1="765" y1="1193" x2="882" y2="1121"/><line x1="789" y1="1207" x2="908" y2="1133"/><line x1="814" y1="1222" x2="935" y2="1146"/><line x1="838" y1="1236" x2="961" y2="1158"/><line x1="862" y1="1250" x2="988" y2="1171"/><line x1="886" y1="1264" x2="1014" y2="1184"/></g>
  <!-- pills -->
  <rect x="1085" y="1150" width="150" height="32" fill="#c4cbde"/>
  <ellipse cx="1160" cy="1182" rx="75" ry="36" fill="#c4cbde"/>
  <ellipse cx="1160" cy="1150" rx="75" ry="36" fill="#eef0f6"/>
  <rect x="1065" y="1075" width="150" height="35" fill="#c4cbde"/>
  <ellipse cx="1140" cy="1110" rx="75" ry="36" fill="#c4cbde"/>
  <ellipse cx="1140" cy="1075" rx="75" ry="36" fill="#f2f4f9"/>
  <line x1="1090" y1="1105" x2="1200" y2="1050" stroke="#c4cbde" stroke-width="8"/>
  <!-- man with tablet -->
  <polygon fill="#4a78e0" points="285,880 360,880 362,1062 335,1068 325,950 312,1082 285,1082"/>
  <polygon fill="#f4f6fa" points="270,745 355,735 400,790 375,840 290,845"/>
  <polygon fill="#4a78e0" points="290,765 355,755 362,885 283,885"/>
  <polygon fill="#f4f6fa" points="305,750 340,748 338,790 305,792"/>
  <polygon fill="#25282e" points="355,812 420,782 428,830 362,862"/>
  <ellipse cx="318" cy="705" rx="22" ry="30" fill="#f0c8b0"/>
  <path fill="#25140f" d="M278,690 C275,665 300,650 325,655 C345,660 340,685 330,690 L310,700 L300,720 C285,715 280,705 278,690 Z"/>
  <polygon fill="#b0b8cc" points="285,1080 312,1080 310,1110 290,1112"/>
  <polygon fill="#b0b8cc" points="335,1062 362,1060 378,1075 355,1080"/>
  <!-- redhead woman -->
  <polygon fill="#f7c7a8" points="595,1220 642,1220 662,1330 640,1335 615,1250 602,1312 585,1308"/>
  <polygon fill="#3f74dc" points="580,1105 676,1090 682,1218 586,1228"/>
  <polygon fill="#f8f8fa" points="585,995 660,988 680,1095 588,1112"/>
  <polygon fill="#b4b8c4" points="650,1000 682,1010 702,1150 690,1160 660,1080"/>
  <ellipse cx="640" cy="955" rx="20" ry="28" fill="#f7c7a8"/>
  <path fill="#b01c1c" d="M585,945 C600,905 650,900 665,930 C660,955 640,950 625,960 L610,1030 C590,1040 572,1035 578,1025 C600,995 590,965 585,945 Z"/>
  <polygon fill="#3a5cc0" points="582,1305 602,1308 598,1350 580,1345"/>
  <polygon fill="#3a5cc0" points="640,1330 665,1325 680,1335 640,1345"/>
</g>

<rect x="1697" y="1792" width="114" height="77.5" fill="#ffffff"/>
<rect x="1699.8" y="1794.7" width="108.6" height="72.3" fill="#0033a0"/>
<polygon points="1754.10,1802.80 1755.16,1805.54 1758.09,1805.70 1755.81,1807.56 1756.57,1810.40 1754.10,1808.80 1751.63,1810.40 1752.39,1807.56 1750.11,1805.70 1753.04,1805.54" fill="#ffcc00"/>
<polygon points="1765.90,1805.96 1766.96,1808.71 1769.89,1808.86 1767.61,1810.72 1768.37,1813.56 1765.90,1811.96 1763.43,1813.56 1764.19,1810.72 1761.91,1808.86 1764.84,1808.71" fill="#ffcc00"/>
<polygon points="1774.54,1814.60 1775.60,1817.34 1778.53,1817.50 1776.25,1819.36 1777.01,1822.20 1774.54,1820.60 1772.07,1822.20 1772.83,1819.36 1770.54,1817.50 1773.48,1817.34" fill="#ffcc00"/>
<polygon points="1777.70,1826.40 1778.76,1829.14 1781.69,1829.30 1779.41,1831.16 1780.17,1834.00 1777.70,1832.40 1775.23,1834.00 1775.99,1831.16 1773.71,1829.30 1776.64,1829.14" fill="#ffcc00"/>
<polygon points="1774.54,1838.20 1775.60,1840.94 1778.53,1841.10 1776.25,1842.96 1777.01,1845.80 1774.54,1844.20 1772.07,1845.80 1772.83,1842.96 1770.54,1841.10 1773.48,1840.94" fill="#ffcc00"/>
<polygon points="1765.90,1846.84 1766.96,1849.58 1769.89,1849.74 1767.61,1851.59 1768.37,1854.44 1765.90,1852.84 1763.43,1854.44 1764.19,1851.59 1761.91,1849.74 1764.84,1849.58" fill="#ffcc00"/>
<polygon points="1754.10,1850.00 1755.16,1852.74 1758.09,1852.90 1755.81,1854.76 1756.57,1857.60 1754.10,1856.00 1751.63,1857.60 1752.39,1854.76 1750.11,1852.90 1753.04,1852.74" fill="#ffcc00"/>
<polygon points="1742.30,1846.84 1743.36,1849.58 1746.29,1849.74 1744.01,1851.59 1744.77,1854.44 1742.30,1852.84 1739.83,1854.44 1740.59,1851.59 1738.31,1849.74 1741.24,1849.58" fill="#ffcc00"/>
<polygon points="1733.66,1838.20 1734.72,1840.94 1737.66,1841.10 1735.37,1842.96 1736.13,1845.80 1733.66,1844.20 1731.19,1845.80 1731.95,1842.96 1729.67,1841.10 1732.60,1840.94" fill="#ffcc00"/>
<polygon points="1730.50,1826.40 1731.56,1829.14 1734.49,1829.30 1732.21,1831.16 1732.97,1834.00 1730.50,1832.40 1728.03,1834.00 1728.79,1831.16 1726.51,1829.30 1729.44,1829.14" fill="#ffcc00"/>
<polygon points="1733.66,1814.60 1734.72,1817.34 1737.66,1817.50 1735.37,1819.36 1736.13,1822.20 1733.66,1820.60 1731.19,1822.20 1731.95,1819.36 1729.67,1817.50 1732.60,1817.34" fill="#ffcc00"/>
<polygon points="1742.30,1805.96 1743.36,1808.71 1746.29,1808.86 1744.01,1810.72 1744.77,1813.56 1742.30,1811.96 1739.83,1813.56 1740.59,1810.72 1738.31,1808.86 1741.24,1808.71" fill="#ffcc00"/>
<text x="1298.0" y="144" font-size="75.36" font-weight="normal" fill="#55c8f8" textLength="404.0" lengthAdjust="spacingAndGlyphs">MES-CoBraD</text>
<text x="462.0" y="208" font-size="46.09" font-weight="normal" fill="#ebebee" textLength="2078.0" lengthAdjust="spacingAndGlyphs">Sharing, managing, analysing data of complex brain diseases in one simple cloud-based research ecosystem.</text>
<text x="450.0" y="306" font-size="31.45" font-weight="normal" fill="#55c8f8" textLength="251.0" lengthAdjust="spacingAndGlyphs">Edge tools for safe</text>
<text x="450.0" y="342.4" font-size="31.45" font-weight="normal" fill="#55c8f8" textLength="331.0" lengthAdjust="spacingAndGlyphs">Real-World Data sharing</text>
<text x="390.0" y="386" font-size="34.35" font-weight="normal" fill="#ffffff" textLength="698.0" lengthAdjust="spacingAndGlyphs">The participating clinicians and researchers enter</text>
<text x="392.0" y="426" font-size="34.35" font-weight="normal" fill="#ffffff" textLength="646.0" lengthAdjust="spacingAndGlyphs">the clinical questionnaire and Real-World Data</text>
<text x="2022.0" y="325" font-size="31.45" font-weight="normal" fill="#55c8f8" textLength="257.0" lengthAdjust="spacingAndGlyphs">Workflow Manager</text>
<text x="1957.0" y="381.5" font-size="34.35" font-weight="normal" fill="#ffffff" textLength="651.0" lengthAdjust="spacingAndGlyphs">The clinicians describe and set up each clinical</text>
<text x="1957.0" y="422" font-size="34.35" font-weight="normal" fill="#ffffff" textLength="628.0" lengthAdjust="spacingAndGlyphs">or research experiment they want to conduct.</text>
<text x="456.0" y="1551" font-size="31.45" font-weight="normal" fill="#55c8f8" textLength="630.0" lengthAdjust="spacingAndGlyphs">Expert System for Clinical Guidance &amp; Support</text>
<text x="396.0" y="1611.6" font-size="34.35" font-weight="normal" fill="#ffffff" textLength="764.0" lengthAdjust="spacingAndGlyphs">The system provides a semi-automated manner for the</text>
<text x="395.0" y="1651.7" font-size="34.35" font-weight="normal" fill="#ffffff" textLength="727.0" lengthAdjust="spacingAndGlyphs">researchers to conduct clinical and research testing.</text>
<text x="1762.5" y="1518.6" font-size="31.45" font-weight="normal" fill="#55c8f8" textLength="363.0" lengthAdjust="spacingAndGlyphs">AI and Advanced Analytics</text>
<text x="1704.9" y="1572.4" font-size="34.35" font-weight="normal" fill="#ffffff" textLength="52.2" lengthAdjust="spacingAndGlyphs">The</text>
<text x="1768.7" y="1572.4" font-size="34.35" font-weight="normal" fill="#ffffff" textLength="175.8" lengthAdjust="spacingAndGlyphs">experiments</text>
<text x="1956.1" y="1572.4" font-size="34.35" font-weight="normal" fill="#ffffff" textLength="44.2" lengthAdjust="spacingAndGlyphs">are</text>
<text x="2011.9" y="1572.4" font-size="34.35" font-weight="normal" fill="#ffffff" textLength="153.2" lengthAdjust="spacingAndGlyphs">conducted</text>
<text x="2174.4" y="1572.4" font-size="34.35" font-weight="normal" fill="#ffffff" textLength="81.0" lengthAdjust="spacingAndGlyphs">using</text>
<text x="2265.0" y="1572.4" font-size="34.35" font-weight="normal" fill="#ffffff" textLength="15.6" lengthAdjust="spacingAndGlyphs">a</text>
<text x="2291.9" y="1572.4" font-size="34.35" font-weight="normal" fill="#ffffff" textLength="172.0" lengthAdjust="spacingAndGlyphs">pre-existing</text>
<text x="2473.1" y="1572.4" font-size="34.35" font-weight="normal" fill="#ffffff" textLength="83.6" lengthAdjust="spacingAndGlyphs">cache</text>
<text x="2570.0" y="1572.4" font-size="34.35" font-weight="normal" fill="#ffffff" textLength="27.0" lengthAdjust="spacingAndGlyphs">of</text>
<text x="1703.9" y="1613.5" font-size="34.35" font-weight="normal" fill="#ffffff" textLength="87.8" lengthAdjust="spacingAndGlyphs">highly</text>
<text x="1808.6" y="1613.5" font-size="34.35" font-weight="normal" fill="#ffffff" textLength="125.6" lengthAdjust="spacingAndGlyphs">enriched</text>
<text x="1948.9" y="1613.5" font-size="34.35" font-weight="normal" fill="#ffffff" textLength="55.8" lengthAdjust="spacingAndGlyphs">and</text>
<text x="2018.7" y="1613.5" font-size="34.35" font-weight="normal" fill="#ffffff" textLength="212.0" lengthAdjust="spacingAndGlyphs">expert-curated</text>
<text x="2244.3" y="1613.5" font-size="34.35" font-weight="normal" fill="#ffffff" textLength="62.6" lengthAdjust="spacingAndGlyphs">data</text>
<text x="2323.7" y="1613.5" font-size="34.35" font-weight="normal" fill="#ffffff" textLength="55.8" lengthAdjust="spacingAndGlyphs">and</text>
<text x="2392.6" y="1613.5" font-size="34.35" font-weight="normal" fill="#ffffff" textLength="126.4" lengthAdjust="spacingAndGlyphs">analyzed</text>
<text x="2534.4" y="1613.5" font-size="34.35" font-weight="normal" fill="#ffffff" textLength="64.2" lengthAdjust="spacingAndGlyphs">with</text>
<text x="1705.0" y="1653.4" font-size="34.35" font-weight="normal" fill="#ffffff" textLength="183.0" lengthAdjust="spacingAndGlyphs">advanced AI.</text>
<text x="1822.0" y="1822" font-size="25.36" font-weight="bold" fill="#ffffff" textLength="127.0" lengthAdjust="spacingAndGlyphs">Funded by</text>
<text x="1824.0" y="1852" font-size="25.36" font-weight="bold" fill="#ffffff" textLength="236.0" lengthAdjust="spacingAndGlyphs">the European Union</text>
<text x="2118.6" y="1793" font-size="22.75" font-weight="normal" fill="#ffffff" textLength="816.6" lengthAdjust="spacingAndGlyphs">Funded by the European Union. Views and opinions expressed are however those of</text>
<text x="2120.6" y="1820" font-size="22.75" font-weight="normal" fill="#ffffff" textLength="815.6" lengthAdjust="spacingAndGlyphs">the author(s) only and do not necessarily reflect those of the European Union or the</text>
<text x="2118.6" y="1848" font-size="22.75" font-weight="normal" fill="#ffffff" textLength="816.6" lengthAdjust="spacingAndGlyphs">European Climate Infrastructure and Environment Executive Agency (CINEA). Neither</text>
<text x="2120.6" y="1875.3" font-size="22.75" font-weight="normal" fill="#ffffff" textLength="775.6" lengthAdjust="spacingAndGlyphs">the European Union nor the granting authority can be held responsible for them.</text>
<text x="2806" y="324" font-size="6" fill="#000" textLength="25" lengthAdjust="spacingAndGlyphs">Lorem Ipsum</text>
</svg></body></html>
